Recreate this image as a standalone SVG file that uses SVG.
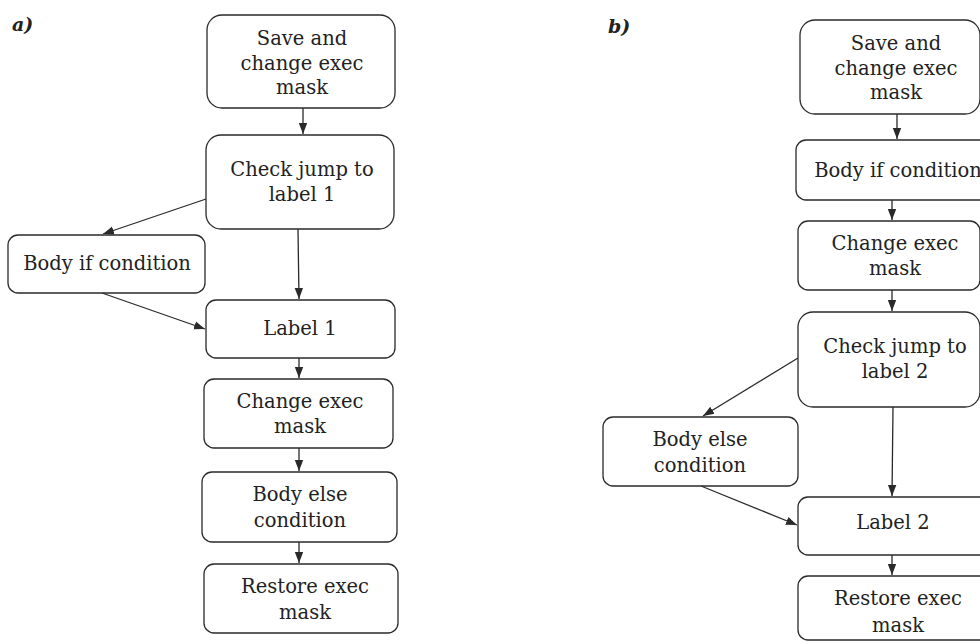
<svg xmlns="http://www.w3.org/2000/svg" width="980" height="642" viewBox="0 0 980 642">
<style>
.box{fill:#fff;stroke:#2a2a2a;stroke-width:1.3}
.t{font-family:"DejaVu Serif","Liberation Serif",serif;font-size:19.5px;fill:#222;text-anchor:middle}
.pl{font-family:"DejaVu Serif","Liberation Serif",serif;font-size:19px;font-style:italic;font-weight:bold;fill:#222}
.c{fill:none;stroke:#2a2a2a;stroke-width:1.3;marker-end:url(#ah)}
</style>
<defs>
<marker id="ah" markerWidth="11" markerHeight="11" viewBox="0 0 11 10" refX="11" refY="5" orient="auto" markerUnits="userSpaceOnUse">
<path d="M0,0.8 L11,5 L0,9.2 Z" fill="#2a2a2a"/>
</marker>
</defs>
<rect width="980" height="642" fill="#fff"/>
<text class="pl" x="12" y="31">a)</text>
<text class="pl" x="608" y="33">b)</text>

<g id="connectors">
<path class="c" d="M303,108 L303,134"/>
<path class="c" d="M206,199 L103,234"/>
<path class="c" d="M298,229 L299,299"/>
<path class="c" d="M102,293 L205,329"/>
<path class="c" d="M299,358 L299,378"/>
<path class="c" d="M299,448 L299,471"/>
<path class="c" d="M299,542 L299,563"/>
<path class="c" d="M897,114 L897,139"/>
<path class="c" d="M892,200 L892,220"/>
<path class="c" d="M892,290 L892,311"/>
<path class="c" d="M798,358 L703,416"/>
<path class="c" d="M893,407 L892,496"/>
<path class="c" d="M701,486 L797,525"/>
<path class="c" d="M892,555 L892,575"/>
</g>

<g id="a-save"><rect class="box" x="207" y="15" width="188" height="93" rx="15"/>
<text class="t" x="302" y="45">Save and</text><text class="t" x="302" y="70">change exec</text><text class="t" x="302" y="94">mask</text></g>
<g id="a-check"><rect class="box" x="206" y="135" width="188" height="94" rx="15"/>
<text class="t" x="302" y="176">Check jump to</text><text class="t" x="302" y="201">label 1</text></g>
<g id="a-bodyif"><rect class="box" x="8" y="235" width="197" height="58" rx="10"/>
<text class="t" x="107" y="270">Body if condition</text></g>
<g id="a-label1"><rect class="box" x="206" y="300" width="189" height="58" rx="10"/>
<text class="t" x="300" y="335">Label 1</text></g>
<g id="a-change"><rect class="box" x="204" y="379" width="189" height="69" rx="10"/>
<text class="t" x="300" y="408">Change exec</text><text class="t" x="300" y="433">mask</text></g>
<g id="a-bodyelse"><rect class="box" x="202" y="472" width="195" height="70" rx="10"/>
<text class="t" x="300" y="501">Body else</text><text class="t" x="300" y="527">condition</text></g>
<g id="a-restore"><rect class="box" x="204" y="564" width="194" height="69" rx="10"/>
<text class="t" x="305" y="593">Restore exec</text><text class="t" x="305" y="619">mask</text></g>

<g id="b-save"><rect class="box" x="800" y="20" width="180" height="94" rx="15"/>
<text class="t" x="896" y="50">Save and</text><text class="t" x="896" y="75">change exec</text><text class="t" x="896" y="99">mask</text></g>
<g id="b-bodyif"><rect class="box" x="796" y="140" width="200" height="60" rx="10"/>
<text class="t" x="898" y="177">Body if condition</text></g>
<g id="b-change"><rect class="box" x="798" y="221" width="182" height="69" rx="10"/>
<text class="t" x="895" y="250">Change exec</text><text class="t" x="895" y="275">mask</text></g>
<g id="b-check"><rect class="box" x="798" y="312" width="182" height="95" rx="15"/>
<text class="t" x="895" y="353">Check jump to</text><text class="t" x="895" y="378">label 2</text></g>
<g id="b-bodyelse"><rect class="box" x="603" y="417" width="195" height="69" rx="10"/>
<text class="t" x="700" y="446">Body else</text><text class="t" x="700" y="472">condition</text></g>
<g id="b-label2"><rect class="box" x="798" y="497" width="200" height="58" rx="10"/>
<text class="t" x="893" y="529">Label 2</text></g>
<g id="b-restore"><rect class="box" x="798" y="576" width="200" height="64" rx="10"/>
<text class="t" x="898" y="605">Restore exec</text><text class="t" x="898" y="632">mask</text></g>
</svg>
